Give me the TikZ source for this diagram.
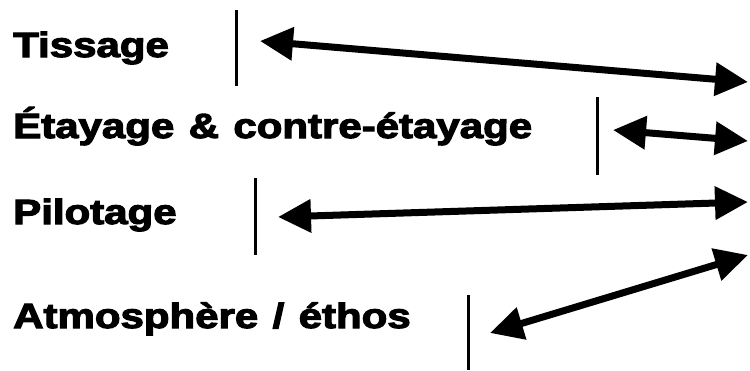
\documentclass[tikz,border=0pt]{standalone}
\usepackage{fontspec}
\font\labelfont="Liberation Sans Bold:embolden=3" at 35pt
\fontdimen2\labelfont=12pt
\usetikzlibrary{arrows.meta}

\begin{document}
\begin{tikzpicture}[x=1pt, y=-1pt,
	label/.style={anchor=base west, inner sep=0pt, xscale=1.2,
		font=\labelfont},
	bar/.style={line width=3pt},
	link/.style={line width=7pt,
		{Triangle[length=33pt, width=32pt]}-{Triangle[length=33pt, width=32pt]}}]
	\useasboundingbox (0,0) rectangle (750,370);

	% labels
	\node[label] (tissage)  at (13,57)  {Tissage};
	\node[label] (etayage)  at (13,138) {Étayage \& contre-étayage};
	\node[label] (pilotage) at (13,224) {Pilotage};
	\node[label] (ethos)    at (13,328) {Atmosphère / éthos};

	% bars
	\coordinate (bar1t) at (236,10);  \coordinate (bar1b) at (236,86);
	\coordinate (bar2t) at (597,97);  \coordinate (bar2b) at (597,175);
	\coordinate (bar3t) at (255,178); \coordinate (bar3b) at (255,255);
	\coordinate (bar4t) at (468,295); \coordinate (bar4b) at (468,370);
	\foreach \i in {1,...,4}
		\draw[bar] (bar\i t) -- (bar\i b);

	% arrow ends
	\coordinate (a1l) at (260,41);  \coordinate (a1r) at (748,82);
	\coordinate (a2l) at (613,130); \coordinate (a2r) at (748,141);
	\coordinate (a3l) at (278,217); \coordinate (a3r) at (748,202);
	\coordinate (a4l) at (490,333); \coordinate (a4r) at (748,255);
	\foreach \i in {1,...,4}
		\draw[link] (a\i l) -- (a\i r);
\end{tikzpicture}
\end{document}
